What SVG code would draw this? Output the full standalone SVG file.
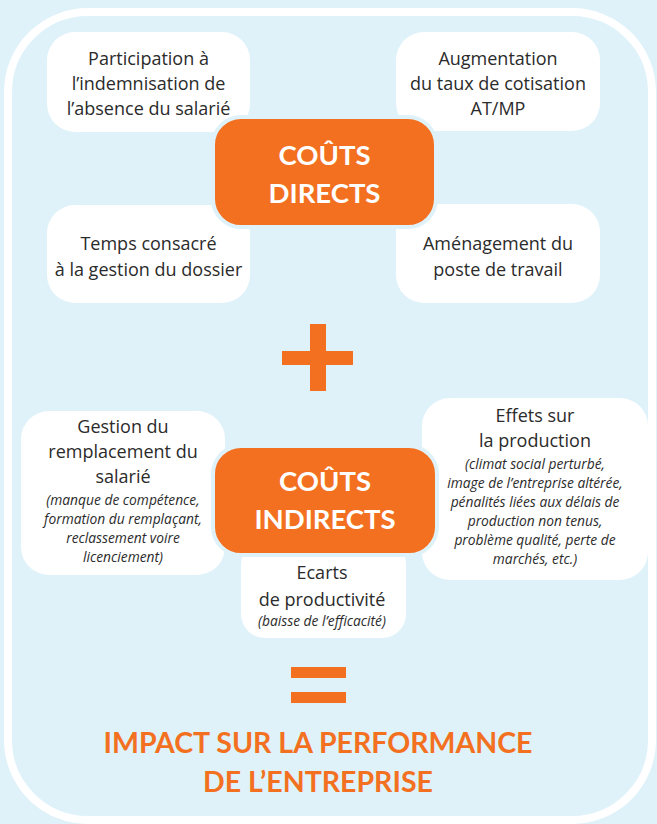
<svg xmlns="http://www.w3.org/2000/svg" width="657" height="824" viewBox="0 0 657 824">
<style>
.bg{fill:#dff2fa}
.box{fill:#ffffff}
.obox{fill:#f37021;stroke:#dff2fa;stroke-width:4}
.t{font-family:"Open Sans",Lato,sans-serif;font-size:18px;fill:#2b2b2b;text-anchor:middle}
.i{font-family:"Open Sans",Lato,sans-serif;font-size:13.8px;font-style:italic;fill:#2b2b2b;text-anchor:middle}
.h{font-family:Lato,"Open Sans",sans-serif;font-size:27.5px;font-weight:bold;fill:#ffffff;text-anchor:middle}
.o{font-family:Lato,"Open Sans",sans-serif;font-size:28.5px;font-weight:bold;fill:#f37021;text-anchor:middle}
.sym{fill:#f37021}
</style>
<rect class="bg" x="0" y="0" width="657" height="824"/>
<rect x="8" y="12" width="644" height="808" rx="80" ry="80" fill="#dff2fa" stroke="#ffffff" stroke-width="8"/>
<g id="connectors"/>
<g id="participation">
<rect class="box" x="47" y="32" width="203" height="100" rx="28"/>
<text class="t" x="148.5" y="65">Participation à</text>
<text class="t" x="148.5" y="90">l’indemnisation de</text>
<text class="t" x="148.5" y="115">l’absence du salarié</text>
</g>
<g id="augmentation">
<rect class="box" x="396" y="32" width="204" height="99" rx="28"/>
<text class="t" x="498" y="65">Augmentation</text>
<text class="t" x="498" y="90">du taux de cotisation</text>
<text class="t" x="498" y="115">AT/MP</text>
</g>
<g id="temps">
<rect class="box" x="47" y="205" width="203" height="98" rx="28"/>
<text class="t" x="148.5" y="250">Temps consacré</text>
<text class="t" x="148.5" y="276">à la gestion du dossier</text>
</g>
<g id="amenagement">
<rect class="box" x="396" y="204" width="204" height="99" rx="28"/>
<text class="t" x="498" y="250">Aménagement du</text>
<text class="t" x="498" y="276">poste de travail</text>
</g>
<g id="couts-directs">
<rect class="obox" x="213" y="117" width="223" height="110" rx="28"/>
<text class="h" x="324.5" y="165">COÛTS</text>
<text class="h" x="324.5" y="203">DIRECTS</text>
</g>
<g id="plus">
<rect class="sym" x="310" y="324" width="16" height="67"/>
<rect class="sym" x="282" y="351" width="71" height="14"/>
</g>
<g id="gestion">
<rect class="box" x="21" y="411" width="204" height="164" rx="28"/>
<text class="t" x="123" y="433">Gestion du</text>
<text class="t" x="123" y="458">remplacement du</text>
<text class="t" x="123" y="483">salarié</text>
<text class="i" x="123" y="505">(manque de compétence,</text>
<text class="i" x="123" y="524">formation du remplaçant,</text>
<text class="i" x="123" y="543">reclassement voire</text>
<text class="i" x="123" y="562">licenciement)</text>
</g>
<g id="effets">
<rect class="box" x="422" y="398" width="226" height="182" rx="28"/>
<text class="t" x="535" y="422">Effets sur</text>
<text class="t" x="535" y="447">la production</text>
<text class="i" x="535" y="469">(climat social perturbé,</text>
<text class="i" x="535" y="488">image de l’entreprise altérée,</text>
<text class="i" x="535" y="507">pénalités liées aux délais de</text>
<text class="i" x="535" y="526">production non tenus,</text>
<text class="i" x="535" y="545">problème qualité, perte de</text>
<text class="i" x="535" y="564">marchés, etc.)</text>
</g>
<g id="ecarts">
<rect class="box" x="241" y="540" width="165" height="98" rx="24"/>
<text class="t" x="322" y="579">Ecarts</text>
<text class="t" x="322" y="606">de productivité</text>
<text class="i" x="322" y="626">(baisse de l’efficacité)</text>
</g>
<g id="couts-indirects">
<rect class="obox" x="213" y="446" width="224" height="109" rx="28"/>
<text class="h" x="325" y="491">COÛTS</text>
<text class="h" x="325" y="529">INDIRECTS</text>
</g>
<g id="equals">
<rect class="sym" x="291" y="667" width="55" height="11"/>
<rect class="sym" x="291" y="692" width="55" height="11"/>
</g>
<g id="impact">
<text class="o" x="318" y="753">IMPACT SUR LA PERFORMANCE</text>
<text class="o" x="318" y="792">DE L’ENTREPRISE</text>
</g>
</svg>
